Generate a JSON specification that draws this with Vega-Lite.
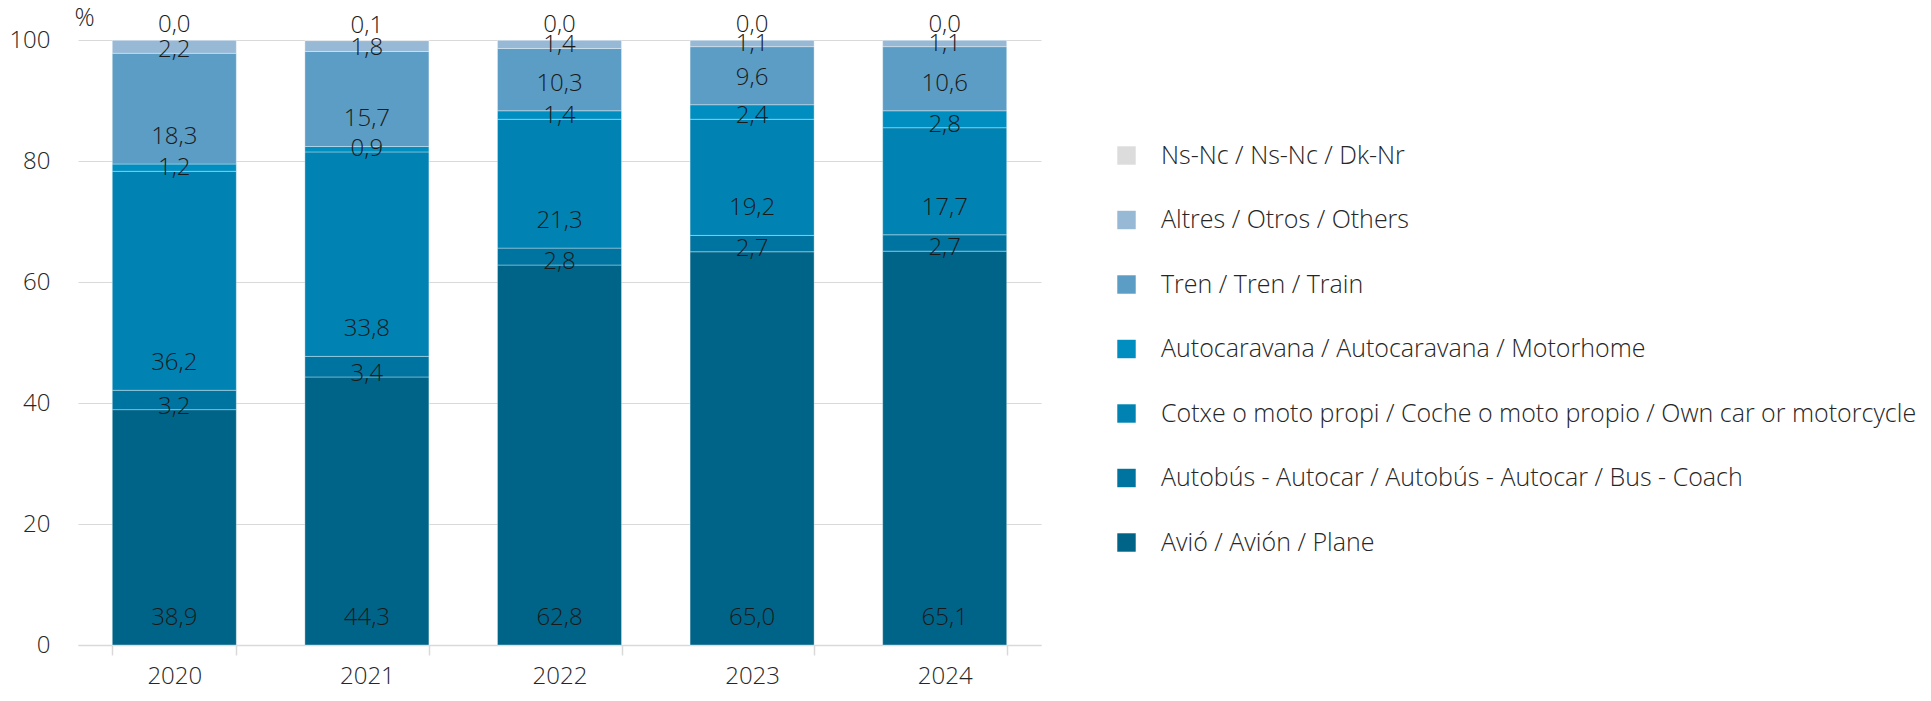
{
  "$schema": "https://vega.github.io/schema/vega-lite/v6.json",
  "width": 963,
  "height": 605,
  "autosize": {"type": "none"},
  "padding": {"left": 78, "top": 40, "right": 890, "bottom": 56},
  "config": {
    "font": "Open Sans",
    "view": {"stroke": null},
    "locale": {"number": {"decimal": ",", "thousands": ".", "grouping": [3], "currency": ["", " €"]}}
  },
  "data": {"values": [
    {"year": "2020", "cat": "Avió / Avión / Plane", "ord": 1, "value": 38.9},
    {"year": "2020", "cat": "Autobús - Autocar / Autobús - Autocar / Bus - Coach", "ord": 2, "value": 3.2},
    {"year": "2020", "cat": "Cotxe o moto propi / Coche o moto propio / Own car or motorcycle", "ord": 3, "value": 36.2},
    {"year": "2020", "cat": "Autocaravana / Autocaravana / Motorhome", "ord": 4, "value": 1.2},
    {"year": "2020", "cat": "Tren / Tren / Train", "ord": 5, "value": 18.3},
    {"year": "2020", "cat": "Altres / Otros / Others", "ord": 6, "value": 2.2},
    {"year": "2020", "cat": "Ns-Nc / Ns-Nc / Dk-Nr", "ord": 7, "value": 0.0},
    {"year": "2021", "cat": "Avió / Avión / Plane", "ord": 1, "value": 44.3},
    {"year": "2021", "cat": "Autobús - Autocar / Autobús - Autocar / Bus - Coach", "ord": 2, "value": 3.4},
    {"year": "2021", "cat": "Cotxe o moto propi / Coche o moto propio / Own car or motorcycle", "ord": 3, "value": 33.8},
    {"year": "2021", "cat": "Autocaravana / Autocaravana / Motorhome", "ord": 4, "value": 0.9},
    {"year": "2021", "cat": "Tren / Tren / Train", "ord": 5, "value": 15.7},
    {"year": "2021", "cat": "Altres / Otros / Others", "ord": 6, "value": 1.8},
    {"year": "2021", "cat": "Ns-Nc / Ns-Nc / Dk-Nr", "ord": 7, "value": 0.1},
    {"year": "2022", "cat": "Avió / Avión / Plane", "ord": 1, "value": 62.8},
    {"year": "2022", "cat": "Autobús - Autocar / Autobús - Autocar / Bus - Coach", "ord": 2, "value": 2.8},
    {"year": "2022", "cat": "Cotxe o moto propi / Coche o moto propio / Own car or motorcycle", "ord": 3, "value": 21.3},
    {"year": "2022", "cat": "Autocaravana / Autocaravana / Motorhome", "ord": 4, "value": 1.4},
    {"year": "2022", "cat": "Tren / Tren / Train", "ord": 5, "value": 10.3},
    {"year": "2022", "cat": "Altres / Otros / Others", "ord": 6, "value": 1.4},
    {"year": "2022", "cat": "Ns-Nc / Ns-Nc / Dk-Nr", "ord": 7, "value": 0.0},
    {"year": "2023", "cat": "Avió / Avión / Plane", "ord": 1, "value": 65.0},
    {"year": "2023", "cat": "Autobús - Autocar / Autobús - Autocar / Bus - Coach", "ord": 2, "value": 2.7},
    {"year": "2023", "cat": "Cotxe o moto propi / Coche o moto propio / Own car or motorcycle", "ord": 3, "value": 19.2},
    {"year": "2023", "cat": "Autocaravana / Autocaravana / Motorhome", "ord": 4, "value": 2.4},
    {"year": "2023", "cat": "Tren / Tren / Train", "ord": 5, "value": 9.6},
    {"year": "2023", "cat": "Altres / Otros / Others", "ord": 6, "value": 1.1},
    {"year": "2023", "cat": "Ns-Nc / Ns-Nc / Dk-Nr", "ord": 7, "value": 0.0},
    {"year": "2024", "cat": "Avió / Avión / Plane", "ord": 1, "value": 65.1},
    {"year": "2024", "cat": "Autobús - Autocar / Autobús - Autocar / Bus - Coach", "ord": 2, "value": 2.7},
    {"year": "2024", "cat": "Cotxe o moto propi / Coche o moto propio / Own car or motorcycle", "ord": 3, "value": 17.7},
    {"year": "2024", "cat": "Autocaravana / Autocaravana / Motorhome", "ord": 4, "value": 2.8},
    {"year": "2024", "cat": "Tren / Tren / Train", "ord": 5, "value": 10.6},
    {"year": "2024", "cat": "Altres / Otros / Others", "ord": 6, "value": 1.1},
    {"year": "2024", "cat": "Ns-Nc / Ns-Nc / Dk-Nr", "ord": 7, "value": 0.0}
  ]},
  "transform": [
    {"stack": "value", "groupby": ["year"], "sort": [{"field": "ord", "order": "ascending"}], "as": ["v0", "v1"]}
  ],
  "encoding": {
    "x": {
      "field": "year", "type": "nominal",
      "scale": {"paddingInner": 0.356, "paddingOuter": 0.178},
      "axis": {
        "title": null, "labelAngle": 0, "labelFontSize": 24, "labelFontWeight": 300, "labelColor": "#262626",
        "domainColor": "#d9d9d9", "domainWidth": 1.5, "tickColor": "#d9d9d9", "tickWidth": 1.5,
        "tickBand": "extent", "tickSize": 10, "labelPadding": 9
      }
    }
  },
  "layer": [
    {
      "mark": {"type": "bar", "stroke": "white", "strokeWidth": 1, "strokeOpacity": 0.35},
      "encoding": {
        "y": {
          "field": "v0", "type": "quantitative",
          "scale": {"domain": [0, 100], "nice": false},
          "axis": {
            "title": "%", "titleAngle": 0, "titleAlign": "left", "titleX": -4, "titleY": -23,
            "titleBaseline": "middle", "titleFontSize": 25, "titleFontWeight": 300, "titleColor": "#262626",
            "values": [0, 20, 40, 60, 80, 100], "domain": false, "ticks": false, "labelPadding": 28,
            "labelFontSize": 24, "labelFontWeight": 300, "labelColor": "#262626", "gridColor": "#d9d9d9", "grid": true
          }
        },
        "y2": {"field": "v1"},
        "color": {
          "field": "cat", "type": "nominal",
          "scale": {
            "domain": [
              "Ns-Nc / Ns-Nc / Dk-Nr",
              "Altres / Otros / Others",
              "Tren / Tren / Train",
              "Autocaravana / Autocaravana / Motorhome",
              "Cotxe o moto propi / Coche o moto propio / Own car or motorcycle",
              "Autobús - Autocar / Autobús - Autocar / Bus - Coach",
              "Avió / Avión / Plane"
            ],
            "range": ["#dcdcdc", "#97b9d5", "#5b9dc5", "#008dc0", "#0083b3", "#0074a0", "#006488"]
          },
          "legend": {
            "title": null, "orient": "none", "legendX": 1036, "legendY": 103,
            "symbolType": "square", "symbolSize": 340, "symbolStrokeWidth": 0,
            "labelFontSize": 25, "labelFontWeight": 300, "labelColor": "#262626", "labelOffset": 22, "rowPadding": 38.5,
            "padding": 0, "labelLimit": 900
          }
        }
      }
    },
    {
      "transform": [{"filter": "datum.value >= 5"}],
      "mark": {"type": "text", "dy": -27, "fontSize": 24, "fontWeight": 300, "color": "#1a1a1a", "baseline": "middle"},
      "encoding": {
        "y": {"field": "v0", "type": "quantitative"},
        "text": {"field": "value", "type": "quantitative", "format": ".1f"}
      }
    },
    {
      "transform": [{"filter": "datum.value < 5 && datum.ord < 7"}],
      "mark": {"type": "text", "dy": -3, "fontSize": 24, "fontWeight": 300, "color": "#1a1a1a", "baseline": "middle"},
      "encoding": {
        "y": {"field": "v0", "type": "quantitative"},
        "text": {"field": "value", "type": "quantitative", "format": ".1f"}
      }
    },
    {
      "transform": [{"filter": "datum.ord == 7"}],
      "mark": {"type": "text", "dy": -15, "fontSize": 24, "fontWeight": 300, "color": "#1a1a1a", "baseline": "middle"},
      "encoding": {
        "y": {"field": "v0", "type": "quantitative"},
        "text": {"field": "value", "type": "quantitative", "format": ".1f"}
      }
    }
  ]
}
